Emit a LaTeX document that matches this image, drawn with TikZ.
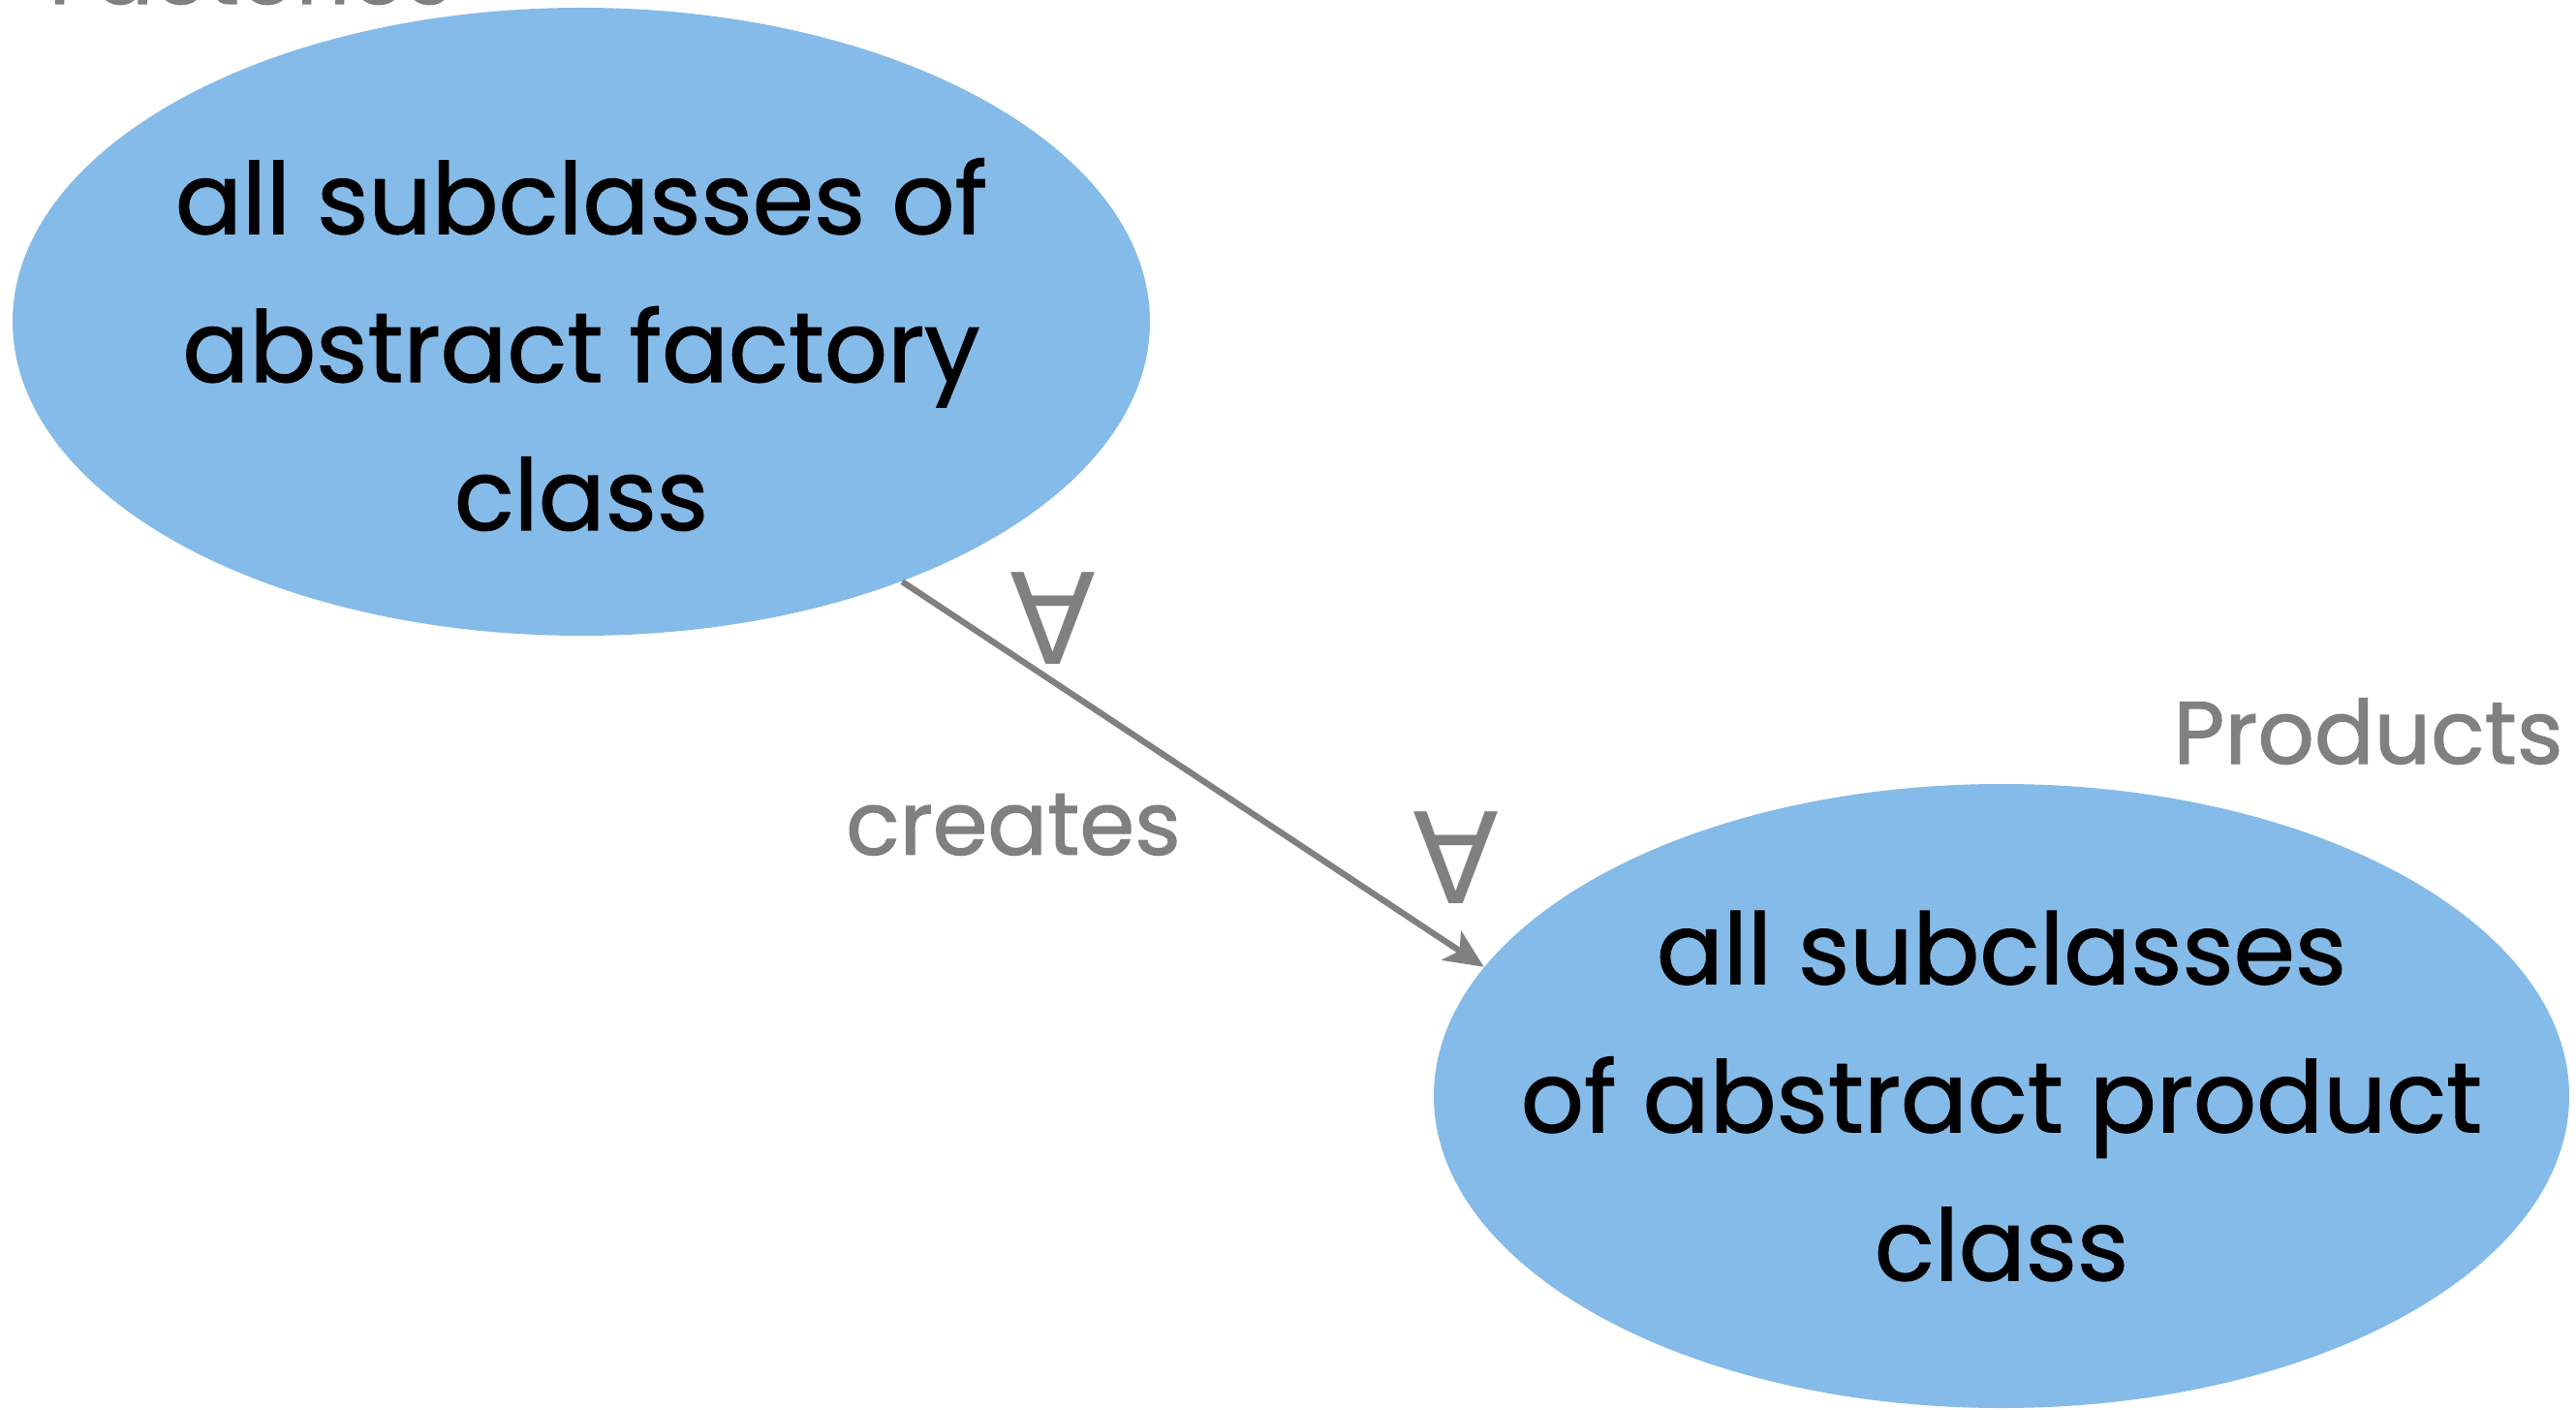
\documentclass[tikz,border=0pt]{standalone}
\usepackage{fontspec}
\setmainfont{Poppins}[FakeBold=1.2]
\newfontfamily\symfont{DejaVu Sans}
\usetikzlibrary{shapes.geometric,arrows.meta}

\definecolor{setblue}{RGB}{133,187,232}
\definecolor{labelgray}{RGB}{128,128,128}

\tikzset{
  setnode/.style={ellipse, fill=setblue, inner sep=-1.3cm, align=center,
    font=\fontsize{29}{43.5}\selectfont},
  setlabel/.style={text=labelgray, font=\fontsize{26}{32}\selectfont},
  quant/.style={text=labelgray, font=\symfont\fontsize{37}{42}\selectfont},
  link/.style={draw=labelgray, line width=1.8pt,
    -{Stealth[length=0.4cm, width=0.36cm, inset=0.1cm]}}
}

\begin{document}
\begin{tikzpicture}

\useasboundingbox (0,0) rectangle (26.59,14.54);

\node [setnode, minimum width=11.74cm, minimum height=6.48cm] (fac) at (6.00,11.22)
  {\rule{0pt}{1.25cm}all subclasses of\\abstract factory\\class};
\node [setnode, minimum width=11.72cm, minimum height=6.44cm] (prod) at (20.66,3.23)
  {all subclasses\\of abstract product\\class};

\node [setlabel, anchor=base west] (factitle) at (0.38,14.50) {Factories};
\node [setlabel, anchor=base east] (prodtitle) at (26.58,6.66) {Products};

\draw [link] (fac.-39.6) -- (prod.166.7);

\node [setlabel] (creates) at (10.46,6.03) {creates};
\node [quant] (all1) at (10.87,8.16) {∀};
\node [quant] (all2) at (15.03,5.69) {∀};

\end{tikzpicture}
\end{document}
